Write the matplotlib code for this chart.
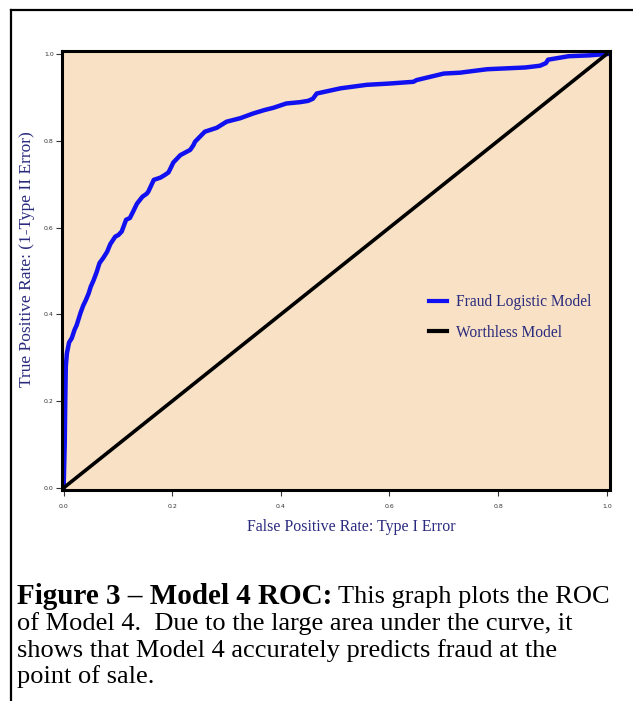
import numpy as np
import matplotlib
matplotlib.use('Agg')
import matplotlib.pyplot as plt
from matplotlib.lines import Line2D

# ROC points (false positive rate, true positive rate)
fpr = [0.000, 0.002, 0.003, 0.004, 0.006, 0.010, 0.015, 0.020, 0.024, 0.027,
       0.031, 0.036, 0.041, 0.046, 0.050, 0.055, 0.061, 0.066, 0.073, 0.080,
       0.086, 0.095, 0.101, 0.107, 0.115, 0.122, 0.128, 0.135, 0.145, 0.153,
       0.156, 0.166, 0.178, 0.186, 0.193, 0.197, 0.202, 0.215, 0.227, 0.233,
       0.239, 0.242, 0.260, 0.282, 0.300, 0.325, 0.349, 0.370, 0.386, 0.410,
       0.435, 0.450, 0.459, 0.466, 0.510, 0.558, 0.600, 0.644, 0.650, 0.700,
       0.730, 0.742, 0.780, 0.815, 0.850, 0.877, 0.888, 0.892, 0.930, 0.969,
       0.978, 1.000]
tpr = [0.000, 0.100, 0.200, 0.280, 0.310, 0.335, 0.345, 0.364, 0.375, 0.387,
       0.403, 0.420, 0.433, 0.448, 0.464, 0.478, 0.498, 0.518, 0.530, 0.544,
       0.562, 0.579, 0.583, 0.591, 0.618, 0.622, 0.637, 0.655, 0.671, 0.678,
       0.683, 0.710, 0.715, 0.721, 0.727, 0.737, 0.750, 0.767, 0.775, 0.779,
       0.790, 0.798, 0.821, 0.830, 0.844, 0.852, 0.863, 0.871, 0.876, 0.886,
       0.889, 0.892, 0.897, 0.909, 0.921, 0.929, 0.932, 0.936, 0.940, 0.955,
       0.957, 0.959, 0.965, 0.967, 0.969, 0.973, 0.979, 0.987, 0.995, 0.997,
       0.998, 1.000]
worthless_x = [0.0, 1.0]
worthless_y = [0.0, 1.0]
ticks = [0.0, 0.2, 0.4, 0.6, 0.8, 1.0]
tick_labels = ['0.0', '0.2', '0.4', '0.6', '0.8', '1.0']

navy = '#2a2a7e'
serif = 'Liberation Serif'

fig = plt.figure(figsize=(6.33, 7.01), dpi=100)

# outer frame of the figure box (runs off the right and bottom edges)
fig.add_artist(Line2D([11/633, 11/633], [0, 1 - 10/701], transform=fig.transFigure,
                      color='black', lw=1.6))
fig.add_artist(Line2D([11/633, 1], [1 - 10/701, 1 - 10/701], transform=fig.transFigure,
                      color='black', lw=1.6))

ax = fig.add_axes([62/633, 1 - 490/701, 548/633, 439/701])
ax.set_facecolor('#f8e1c4')
ax.plot(fpr, tpr, color='#1010f0', lw=3.2, label='Fraud Logistic Model')
ax.plot(worthless_x, worthless_y, color='black', lw=2.6, label='Worthless Model')
ax.set_xlim(-0.003, 1.006)
ax.set_ylim(-0.005, 1.007)
ax.set_xticks(ticks)
ax.set_xticklabels(tick_labels)
ax.set_yticks(ticks)
ax.set_yticklabels(tick_labels)
ax.tick_params(labelsize=4.5, length=4, width=0.8, colors='#333333')
ax.tick_params(axis='x', pad=6)
ax.tick_params(axis='y', pad=2)
for s in ax.spines.values():
    s.set_linewidth(2.2)
    s.set_color('black')

fig.text(351/633, 1 - 527/701, 'False Positive Rate: Type I Error', family=serif,
         fontsize=11.4, color=navy, ha='center', va='center')
fig.text(27/633, 1 - 259/701, 'True Positive Rate: (1-Type II Error)', family=serif,
         fontsize=12.5, color=navy, ha='center', va='center', rotation=90)

leg = ax.legend(loc='center left', bbox_to_anchor=(0.645, 0.393), frameon=False,
                handlelength=1.1, handletextpad=0.6, labelspacing=0.95,
                prop={'family': serif, 'size': 11.2})
for t in leg.get_texts():
    t.set_color(navy)
for h in leg.get_lines():
    h.set_linewidth(3)

# caption below the chart
cap_y = [597, 624, 651, 677]
t1 = fig.text(17/633, 1 - cap_y[0]/701, 'Figure 3 – Model 4 ROC:', fontsize=21,
              family=serif, weight='bold', va='center')
fig.canvas.draw()
bb = t1.get_window_extent()
fig.text(bb.x1/633 + 0.009, 1 - cap_y[0]/701, 'This graph plots the ROC', fontsize=19,
         family=serif, va='center')
lines = ['of Model 4.  Due to the large area under the curve, it',
         'shows that Model 4 accurately predicts fraud at the',
         'point of sale.']
for yy, txt in zip(cap_y[1:], lines):
    fig.text(17/633, 1 - yy/701, txt, fontsize=19, family=serif, va='center')

fig.savefig('out.png', dpi=100)
